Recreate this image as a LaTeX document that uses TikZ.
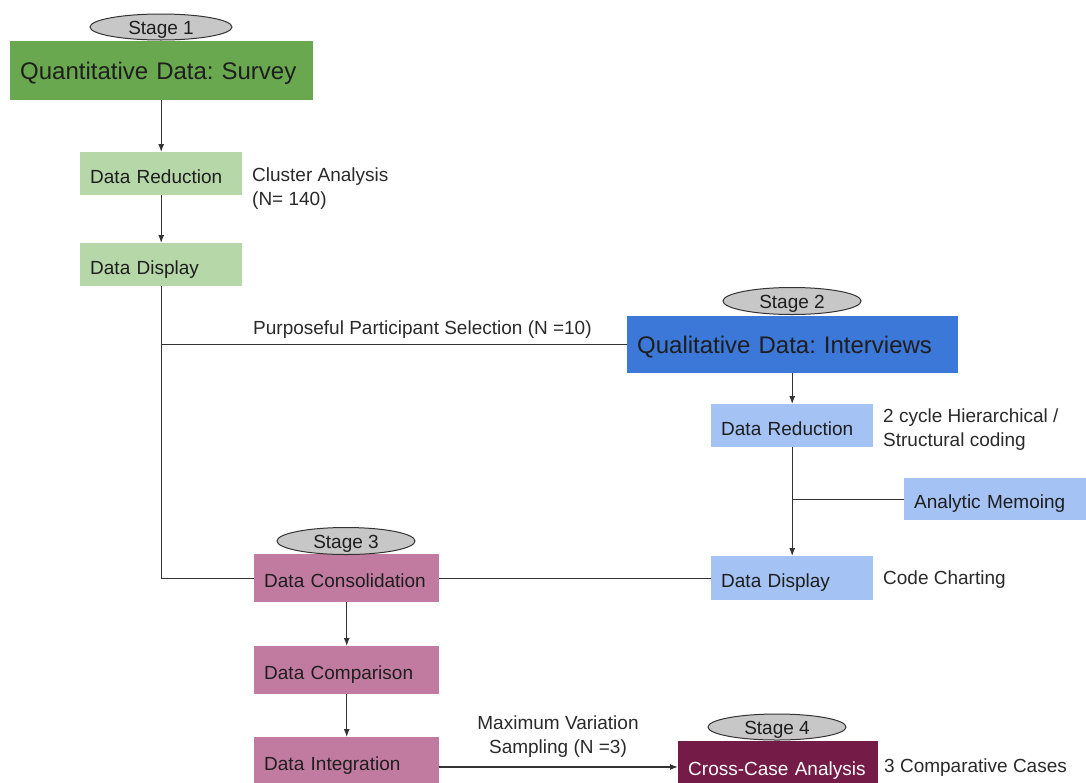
\documentclass[tikz,border=0pt]{standalone}
\usepackage{fontspec}
\setmainfont{Liberation Sans}
\usetikzlibrary{shapes.geometric,arrows.meta}
\definecolor{gdark}{HTML}{6AA84F}
\definecolor{glight}{HTML}{B6D7A8}
\definecolor{bdark}{HTML}{3C78D8}
\definecolor{blight}{HTML}{A4C2F4}
\definecolor{pink}{HTML}{C27BA0}
\definecolor{maroon}{HTML}{741B47}
\definecolor{txt}{HTML}{1E1E1E}
\definecolor{lbl}{HTML}{2A2A2A}
\definecolor{ln}{HTML}{333333}
\tikzset{
  box/.style={anchor=north west, inner xsep=10pt, inner ysep=0pt, align=left, text=txt,
    font=\fontsize{19}{23}\selectfont, text height=23.5pt, text depth=4pt},
  bigbox/.style={box, font=\fontsize{24}{28}\selectfont, text height=17pt, text depth=0pt},
  stagebox/.style={ellipse, draw=ln, line width=1pt, fill=black!22, inner sep=0pt,
    minimum width=138pt, minimum height=27pt, text=txt, font=\fontsize{19}{23}\selectfont,
    text height=14pt, text depth=0pt},
  side/.style={align=left, text=lbl, inner sep=0pt, font=\fontsize{19}{24}\selectfont},
  conn/.style={draw=ln, line width=1.2pt},
  arr/.style={conn, -{Latex[length=8pt,width=6pt]}},
}
\begin{document}
\frenchspacing
\begin{tikzpicture}[x=1pt,y=-1pt]
\useasboundingbox[fill=white] (0,0) rectangle (1086,782);
% Stage 1
\node[bigbox, fill=gdark, text width=283pt, minimum height=59pt] (q1) at (10,41) {Quantitative Data: Survey};
\node[stagebox, minimum width=142pt, minimum height=26pt] (s1) at (161,27) {Stage 1};
\node[box, fill=glight, text width=142pt, minimum height=43pt] (dr1) at (80,152) {Data Reduction};
\node[box, fill=glight, text width=142pt, minimum height=43pt] (dd1) at (80,243) {Data Display};
\node[side, anchor=north west] (ca) at (252,168) {Cluster Analysis\\(N= 140)};
% Stage 2
\node[bigbox, fill=bdark, text width=311pt, minimum height=57pt] (q2) at (627,316) {Qualitative Data: Interviews};
\node[stagebox] (s2) at (792,301) {Stage 2};
\node[box, fill=blight, text width=142pt, minimum height=43pt] (dr2) at (711,404) {Data Reduction};
\node[box, fill=blight, text width=162pt, minimum height=42pt] (am) at (904,478) {Analytic Memoing};
\node[box, fill=blight, text width=142pt, minimum height=44pt] (dd2) at (711,556) {Data Display};
\node[side, anchor=north west] (hc) at (883,409) {2 cycle Hierarchical /\\Structural coding};
\node[side, anchor=west] (cch) at (883,580) {Code Charting};
% Stage 3
\node[box, fill=pink, text width=165pt, minimum height=48pt] (dc) at (254,554) {Data Consolidation};
\node[stagebox] (s3) at (346,541) {Stage 3};
\node[box, fill=pink, text width=165pt, minimum height=48pt] (dcp) at (254,646) {Data Comparison};
\node[box, fill=pink, text width=165pt, minimum height=48pt] (di) at (254,737) {Data Integration};
% Stage 4
\node[box, fill=maroon, text=white, text width=180pt, minimum height=50pt] (cc) at (678,741) {Cross-Case Analysis};
\node[stagebox, minimum height=26pt] (s4) at (777,727) {Stage 4};
\node[side, anchor=west] (cmp) at (884,768) {3 Comparative Cases};
% connectors
\draw[arr] (dr1.north |- q1.south) -- (dr1.north);
\draw[arr] (dr1.south) -- (dd1.north);
\draw[conn] (dd1.south) |- (dc.west);
\draw[conn] (dd1.south |- q2.west) -- (q2.west);
\node[side, anchor=south west] (pps) at (253,339) {Purposeful Participant Selection (N =10)};
\draw[arr] (dr2.north |- q2.south) -- (dr2.north);
\draw[arr] (dr2.south) -- (dd2.north);
\draw[conn] (dr2.south |- am.west) -- (am.west);
\draw[conn] (dd2.west) -- (dc.east);
\draw[arr] (dc.south) -- (dcp.north);
\draw[arr] (dcp.south) -- (di.north);
\coordinate (dio) at (di.east |- 0,767);
\draw[arr] (dio) -- (dio -| cc.west);
\node[side, align=center, anchor=south] (mvs) at (558,758) {Maximum Variation\\Sampling (N =3)};
\end{tikzpicture}
\end{document}
